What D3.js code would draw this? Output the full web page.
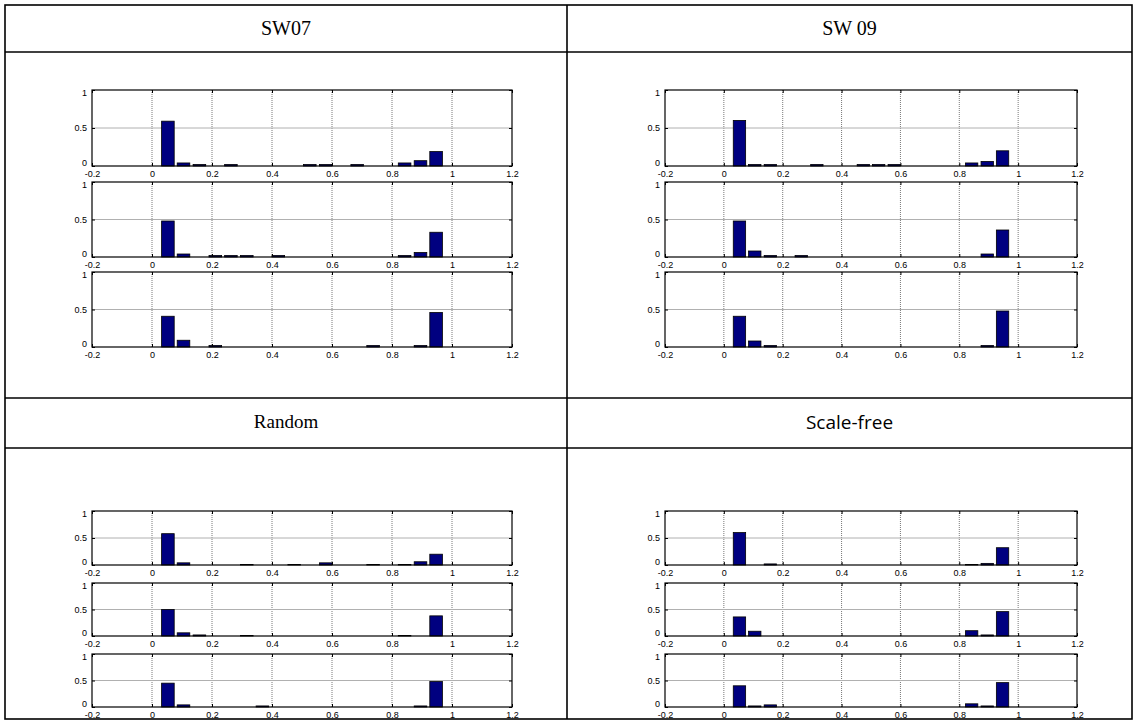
<!DOCTYPE html>
<html lang="en">
<head>
    <meta charset="UTF-8">
    <script src="https://d3js.org/d3.v7.min.js"></script>
    <style>
        body {
            margin: 0;
            padding: 0;
            background: #ffffff;
        }
        .tick text {
            font-family: "Liberation Sans", Arial, sans-serif;
            font-size: 9px;
            fill: #000;
        }
    </style>
</head>
<body>
    <div id="chart"></div>
    <script>
        // Histogram bin centres (18 bins) and axis ticks
        const binCenters = [0.053, 0.105, 0.158, 0.211, 0.263, 0.316, 0.368, 0.421, 0.474,
                            0.526, 0.579, 0.632, 0.684, 0.737, 0.789, 0.842, 0.895, 0.947];
        const xTicks = [-0.2, 0, 0.2, 0.4, 0.6, 0.8, 1, 1.2];
        const yTicks = [0, 0.5, 1];

        const panelTitles = ["SW07", "SW 09", "Random", "Scale-free"];

        // Relative frequencies, three histograms per panel
        const sw07 = [
            [0.59, 0.04, 0.02, 0, 0.02, 0, 0, 0, 0, 0.02, 0.02, 0, 0.02, 0, 0, 0.04, 0.07, 0.19],
            [0.48, 0.04, 0, 0.02, 0.02, 0.02, 0, 0.02, 0, 0, 0, 0, 0, 0, 0, 0.02, 0.06, 0.33],
            [0.41, 0.09, 0, 0.02, 0, 0, 0, 0, 0, 0, 0, 0, 0, 0.02, 0, 0, 0.02, 0.46]
        ];
        const sw09 = [
            [0.60, 0.02, 0.02, 0, 0, 0.02, 0, 0, 0.02, 0.02, 0.02, 0, 0, 0, 0, 0.04, 0.06, 0.20],
            [0.48, 0.08, 0.02, 0, 0.02, 0, 0, 0, 0, 0, 0, 0, 0, 0, 0, 0, 0.04, 0.36],
            [0.41, 0.08, 0.02, 0, 0, 0, 0, 0, 0, 0, 0, 0, 0, 0, 0, 0, 0.02, 0.48]
        ];
        const random = [
            [0.58, 0.04, 0, 0, 0, 0.01, 0, 0, 0.01, 0, 0.04, 0, 0, 0.01, 0, 0.01, 0.06, 0.20],
            [0.50, 0.06, 0.02, 0, 0, 0.01, 0, 0, 0, 0, 0, 0, 0, 0, 0, 0.01, 0, 0.38],
            [0.45, 0.04, 0, 0, 0, 0, 0.02, 0, 0, 0, 0, 0, 0, 0, 0, 0, 0.02, 0.48]
        ];
        const scaleFree = [
            [0.60, 0, 0.02, 0, 0, 0, 0, 0, 0, 0, 0, 0, 0, 0, 0, 0.01, 0.03, 0.32],
            [0.36, 0.09, 0, 0, 0, 0, 0, 0, 0, 0, 0, 0, 0, 0, 0, 0.10, 0.02, 0.46],
            [0.40, 0.02, 0.04, 0, 0, 0, 0, 0, 0, 0, 0, 0, 0, 0, 0, 0.06, 0.02, 0.46]
        ];
        const panelData = [sw07, sw09, random, scaleFree];

        const width = 1137, height = 726;

        // table geometry
        const table = {left: 5, right: 1132, top: 5, bottom: 719, mid: 567,
                       rows: [52, 398, 448]};

        // plot box placement inside each panel: [top, bottom] of each subplot
        const topRows = [[90, 166], [182, 257], [272, 347]];
        const bottomRows = [[511, 565], [583, 636], [654, 707]];
        const panelBoxes = [
            {x0: 92, x1: 512, plots: topRows},
            {x0: 665, x1: 1077, plots: topRows},
            {x0: 92, x1: 512, plots: bottomRows},
            {x0: 665, x1: 1077, plots: bottomRows}
        ];

        const svg = d3.select("#chart").append("svg")
            .attr("width", width)
            .attr("height", height);

        // table lines
        const lines = svg.append("g")
            .attr("stroke", "#000")
            .attr("stroke-width", 1.6)
            .attr("fill", "none");
        lines.append("rect")
            .attr("x", table.left).attr("y", table.top)
            .attr("width", table.right - table.left)
            .attr("height", table.bottom - table.top);
        lines.append("line")
            .attr("x1", table.mid).attr("x2", table.mid)
            .attr("y1", table.top).attr("y2", table.bottom);
        table.rows.forEach(y => {
            lines.append("line")
                .attr("x1", table.left).attr("x2", table.right)
                .attr("y1", y).attr("y2", y);
        });

        // header texts
        const headerY = [30, 30, 424, 424];
        const headerSize = ["20px", "20px", "19px", "19px"];
        panelTitles.forEach((t, i) => {
            const cx = i % 2 === 0 ? (table.left + table.mid) / 2 : (table.mid + table.right) / 2;
            svg.append("text")
                .attr("x", cx)
                .attr("y", headerY[i])
                .attr("text-anchor", "middle")
                .attr("dominant-baseline", "middle")
                .style("font-family", i === 3 ? "'Open Sans', sans-serif" : "'Liberation Serif', 'Times New Roman', serif")
                .style("font-size", headerSize[i])
                .text(t);
        });

        const halfBin = 0.021; // bar width 0.8 of bin spacing

        panelData.forEach((rows, p) => {
            const box = panelBoxes[p];
            const x = d3.scaleLinear().domain([-0.2, 1.2]).range([box.x0, box.x1]);

            rows.forEach((values, r) => {
                const [top, bottom] = box.plots[r];
                const y = d3.scaleLinear().domain([0, 1]).range([bottom, top]);
                const g = svg.append("g");

                // grid
                g.append("g").selectAll("line")
                    .data(xTicks.slice(1, -1))
                    .join("line")
                    .attr("x1", d => x(d)).attr("x2", d => x(d))
                    .attr("y1", top).attr("y2", bottom)
                    .attr("stroke", "#555")
                    .attr("stroke-width", 0.8)
                    .attr("stroke-dasharray", "1,1");
                g.append("line")
                    .attr("x1", box.x0).attr("x2", box.x1)
                    .attr("y1", y(0.5)).attr("y2", y(0.5))
                    .attr("stroke", "#b0b0b0")
                    .attr("stroke-width", 1);

                // bars
                g.append("g").selectAll("rect")
                    .data(values.map((v, i) => ({c: binCenters[i], v: v})))
                    .join("rect")
                    .attr("x", d => x(d.c - halfBin))
                    .attr("width", d => x(d.c + halfBin) - x(d.c - halfBin))
                    .attr("y", d => y(d.v))
                    .attr("height", d => y(0) - y(d.v))
                    .attr("fill", "#000080")
                    .attr("stroke", "#000")
                    .attr("stroke-width", 0.8);

                // axes, inward ticks on all sides
                const xb = g.append("g")
                    .attr("transform", `translate(0,${bottom})`)
                    .call(d3.axisBottom(x).tickValues(xTicks).tickSizeInner(-3).tickSizeOuter(0)
                        .tickPadding(5).tickFormat(d => d));
                const xt = g.append("g")
                    .attr("transform", `translate(0,${top})`)
                    .call(d3.axisTop(x).tickValues(xTicks).tickSizeInner(-3).tickSizeOuter(0)
                        .tickFormat(""));
                const yl = g.append("g")
                    .attr("transform", `translate(${box.x0},0)`)
                    .call(d3.axisLeft(y).tickValues(yTicks).tickSizeInner(-3).tickSizeOuter(0)
                        .tickPadding(5).tickFormat(d => d));
                const yr = g.append("g")
                    .attr("transform", `translate(${box.x1},0)`)
                    .call(d3.axisRight(y).tickValues(yTicks).tickSizeInner(-3).tickSizeOuter(0)
                        .tickFormat(""));
                [xb, xt, yl, yr].forEach(a => a.select(".domain").remove());
                [xb, xt, yl, yr].forEach(a => a.selectAll(".tick line").attr("stroke", "#000"));

                // keep the corner labels apart: "0" a little up, "1" a little down
                yl.selectAll(".tick text")
                    .filter(d => d === 0)
                    .attr("dy", "-0.1em");
                yl.selectAll(".tick text")
                    .filter(d => d === 1)
                    .attr("dy", "0.6em");

                // axes box
                g.append("rect")
                    .attr("x", box.x0).attr("y", top)
                    .attr("width", box.x1 - box.x0)
                    .attr("height", bottom - top)
                    .attr("fill", "none")
                    .attr("stroke", "#000")
                    .attr("stroke-width", 1.2);
            });
        });
    </script>
</body>
</html>
